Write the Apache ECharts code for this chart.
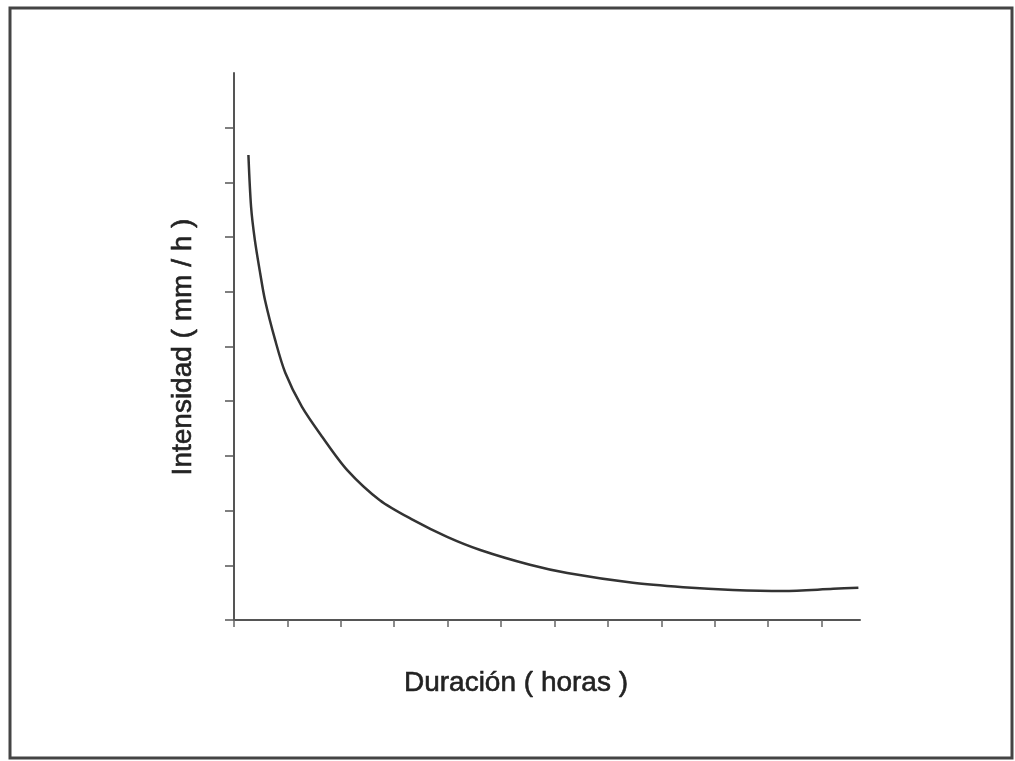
<!DOCTYPE html>
<html>
<head>
<meta charset="utf-8">
<script src="https://cdn.jsdelivr.net/npm/echarts@6/dist/echarts.min.js"></script>
<style>html,body{margin:0;padding:0;background:#fff}#c{width:1015px;height:761px}</style>
</head>
<body>
<div id="c"></div>
<script>
const duracion = [0.27,0.32,0.39,0.49,0.58,0.77,0.96,1.27,1.65,2.12,2.73,3.35,3.99,4.61,5.54,6.24,7.47,8.41,9.34,10.28,11.22,11.69];
const intensidad = [8.50,7.55,6.95,6.34,5.85,5.12,4.52,3.90,3.35,2.74,2.19,1.83,1.52,1.28,1.01,0.86,0.68,0.60,0.55,0.53,0.57,0.59];
const xTicks = [0,1,2,3,4,5,6,7,8,9,10,11];
const yTicks = [0,1,2,3,4,5,6,7,8,9];
const xTitle = 'Duración ( horas )';
const yTitle = 'Intensidad ( mm / h )';

const chart = echarts.init(document.getElementById('c'));
chart.setOption({
  backgroundColor: '#fff',
  animation: false,
  grid: {left: 234, top: 73, right: 155, bottom: 141},
  xAxis: {
    type: 'value', min: 0, max: 11.72, interval: 1,
    axisLine: {lineStyle: {color: '#555', width: 2}},
    axisTick: {show: true, length: 7, inside: false, customValues: xTicks, lineStyle: {color: '#666', width: 1.5}},
    axisLabel: {show: false},
    splitLine: {show: false}
  },
  yAxis: {
    type: 'value', min: 0, max: 10, interval: 1,
    axisLine: {show: true, lineStyle: {color: '#555', width: 2}},
    axisTick: {show: true, length: 9, inside: false, customValues: yTicks, lineStyle: {color: '#555', width: 1.5}},
    axisLabel: {show: false},
    splitLine: {show: false}
  },
  series: [{
    type: 'line',
    data: duracion.map((d, i) => [d, intensidad[i]]),
    smooth: 0.3,
    showSymbol: false,
    lineStyle: {color: '#333', width: 2.5}
  }],
  graphic: [
    {type: 'rect', shape: {x: 10, y: 8, width: 1002, height: 750},
     style: {fill: 'none', stroke: '#444', lineWidth: 3}, z: 100},
    {type: 'text', x: 516, y: 683,
     style: {text: xTitle, font: '28px "Liberation Sans", Arial, sans-serif', fill: '#222', stroke: '#222', lineWidth: 0.6, align: 'center', verticalAlign: 'middle'}},
    {type: 'text', x: 183, y: 347, rotation: Math.PI / 2,
     style: {text: yTitle, font: '28px "Liberation Sans", Arial, sans-serif', fill: '#222', stroke: '#222', lineWidth: 0.6, align: 'center', verticalAlign: 'middle'}}
  ]
});
</script>
</body>
</html>
